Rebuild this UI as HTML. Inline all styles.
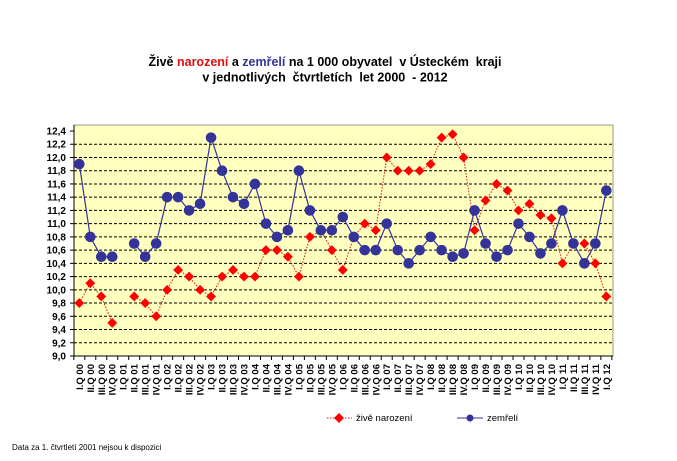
<!DOCTYPE html>
<html><head><meta charset="utf-8"><style>
body{margin:0;background:#fff;}
svg{display:block;font-family:"Liberation Sans",Arial,sans-serif;}
</style></head><body>
<svg id="s" width="677" height="461" xmlns="http://www.w3.org/2000/svg">
<rect width="677" height="461" fill="#fff"/>
<text x="325" y="66" font-size="12.5" font-weight="bold" text-anchor="middle" xml:space="preserve">Živě <tspan fill="#e01010">narození</tspan> a <tspan fill="#333399">zemřelí</tspan> na 1 000 obyvatel  v Ústeckém  kraji</text>
<text x="325" y="81.5" font-size="12.5" font-weight="bold" text-anchor="middle" xml:space="preserve">v jednotlivých  čtvrtletích  let 2000  - 2012</text>
<rect x="74" y="125" width="539" height="231" fill="#ffffc0" stroke="#999" stroke-width="1"/>
<g id="g"></g>
<line x1="327" y1="418" x2="352" y2="418" stroke="#e01010" stroke-dasharray="1.5,1.5"/>
<rect x="335.5" y="414.5" width="7" height="7" fill="#f00" transform="rotate(45 339 418)"/>
<text x="356" y="421" font-size="9.5">živě narození</text>
<line x1="457" y1="418" x2="483" y2="418" stroke="#333399"/>
<circle cx="470" cy="418" r="3.5" fill="#333399"/>
<text x="487" y="421" font-size="9.5">zemřelí</text>
<text x="12" y="450" font-size="8">Data za 1. čtvrtletí 2001 nejsou k dispozici</text>
</svg>
<script>
var N=[9.8,10.1,9.9,9.5,null,9.9,9.8,9.6,10.0,10.3,10.2,10.0,9.9,10.2,10.3,10.2,10.2,10.6,10.6,10.5,10.2,10.8,10.9,10.6,10.3,10.8,11.0,10.9,12.0,11.8,11.8,11.8,11.9,12.3,12.35,12.0,10.9,11.35,11.6,11.5,11.2,11.3,11.13,11.08,10.4,10.7,10.7,10.4,9.9];
var D=[11.9,10.8,10.5,10.5,null,10.7,10.5,10.7,11.4,11.4,11.2,11.3,12.3,11.8,11.4,11.3,11.6,11.0,10.8,10.9,11.8,11.2,10.9,10.9,11.1,10.8,10.6,10.6,11.0,10.6,10.4,10.6,10.8,10.6,10.5,10.55,11.2,10.7,10.5,10.6,11.0,10.8,10.55,10.7,11.2,10.7,10.4,10.7,11.5];
var R=['I','II','III','IV'];
function X(i){return 79.3+i*10.98;}
function Y(v){return 131+(12.4-v)/0.2*13.235;}
var h='';
for(var k=0;k<=17;k++){var v=9+k*0.2,y=Y(v);
 if(k<17)h+='<line x1="74" y1="'+y+'" x2="613" y2="'+y+'" stroke="#000" stroke-dasharray="3,2"/>';
 h+='<line x1="70" y1="'+y+'" x2="74" y2="'+y+'" stroke="#000"/>';
 h+='<text x="66" y="'+(y+3.5)+'" font-size="10" font-weight="bold" text-anchor="end">'+v.toFixed(1).replace('.',',')+'</text>';}
h+='<line x1="74" y1="125" x2="74" y2="356" stroke="#000"/><line x1="74" y1="356" x2="613" y2="356" stroke="#000"/>';
for(var i=0;i<=49;i++){var x=X(i)-5.49;h+='<line x1="'+x+'" y1="356" x2="'+x+'" y2="360" stroke="#000"/>';}
for(var i=0;i<49;i++){var lab=R[i%4]+'.Q '+String(Math.floor(i/4)).padStart(2,'0');
 h+='<text transform="translate('+(X(i)+3.5)+',364) rotate(-90)" font-size="9.5" font-weight="bold" text-anchor="end">'+lab+'</text>';}
function path(a,st){var s='',pen=false;for(var i=0;i<a.length;i++){if(a[i]==null){pen=false;continue;}s+=(pen?'L':'M')+X(i)+' '+Y(a[i]);pen=true;}return '<path d="'+s+'" fill="none" '+st+'/>';}
h+=path(N,'stroke="#e01010" stroke-width="1" stroke-dasharray="1.5,1.5"');
for(var i=0;i<49;i++)if(N[i]!=null){var x=X(i),y=Y(N[i]);h+='<rect x="'+(x-3.5)+'" y="'+(y-3.5)+'" width="7" height="7" fill="#f00" transform="rotate(45 '+x+' '+y+')"/>';}
h+=path(D,'stroke="#333399" stroke-width="1.2"');
for(var i=0;i<49;i++)if(D[i]!=null)h+='<circle cx="'+X(i)+'" cy="'+Y(D[i])+'" r="5.3" fill="#333399"/>';
document.getElementById('g').innerHTML=h;
</script>
</body></html>
